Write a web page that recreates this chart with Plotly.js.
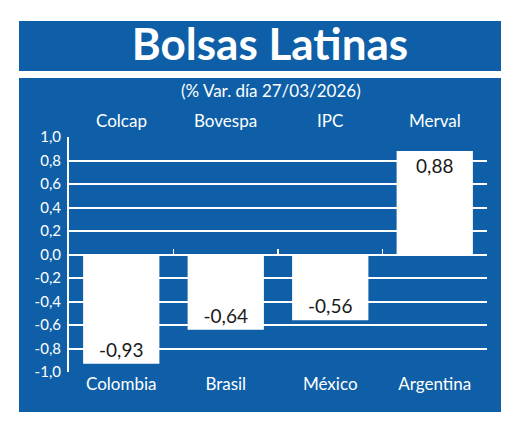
<!DOCTYPE html>
<html>
<head>
<meta charset="utf-8">
<script src="https://cdn.plot.ly/plotly-3.0.1.min.js"></script>
<style>
html,body{margin:0;padding:0;background:#fff;}
#chart{width:520px;height:447px;}
</style>
</head>
<body>
<div id="chart"></div>
<script>
// Data
var countries = ["Colombia", "Brasil", "México", "Argentina"];
var indices = ["Colcap", "Bovespa", "IPC", "Merval"];
var values = [-0.93, -0.64, -0.56, 0.88];
var yTickVals = [-1.0, -0.8, -0.6, -0.4, -0.2, 0.0, 0.2, 0.4, 0.6, 0.8, 1.0];
var yTickText = ["-1,0", "-0,8", "-0,6", "-0,4", "-0,2", "0,0", "0,2", "0,4", "0,6", "0,8", "1,0"];
var boundaryVals = [0.5, 1.5, 2.5, 3.5];

var BLUE = "#0e5fa8";
var FONT = "Lato, Open Sans, sans-serif";

// layout geometry (pixels)
var L = 69, R = 487, T = 137, B = 372, W = 520, H = 447;
function px(x){ return (x - L) / (R - L); }
function py(y){ return (B - y) / (B - T); }

var labels = values.map(function(v){ return v.toFixed(2).replace(".", ","); });

var bars = {
  type: "bar",
  x: countries,
  y: values,
  text: labels,
  textposition: "inside",
  insidetextanchor: "end",
  textangle: 0,
  textfont: {family: FONT, size: 19, color: "#1a1a1a"},
  marker: {color: "#ffffff", line: {width: 0}},
  hoverinfo: "skip",
  showlegend: false,
  cliponaxis: false
};

var dummy = {
  type: "scatter",
  x: [null], y: [null],
  xaxis: "x2", yaxis: "y",
  mode: "markers",
  hoverinfo: "skip",
  showlegend: false
};

var annotations = [
  {text: "(% Var. día 27/03/2026)", xref: "paper", yref: "paper",
   x: px(271), y: py(91), xanchor: "center", yanchor: "middle", showarrow: false,
   font: {family: FONT, size: 17, color: "#ffffff"}}
];
indices.forEach(function(name, i){
  annotations.push({text: name, xref: "x", yref: "paper", x: countries[i], y: py(121),
    xanchor: "center", yanchor: "middle", showarrow: false,
    font: {family: FONT, size: 17, color: "#ffffff"}});
});

var layout = {
  width: W, height: H,
  margin: {l: L, r: W - R, t: T, b: H - B, pad: 0},
  paper_bgcolor: "#ffffff",
  plot_bgcolor: "rgba(0,0,0,0)",
  separators: ",.",
  bargap: 0.27,
  title: {
    text: "<b>Bolsas Latinas</b>",
    x: 270 / W, xref: "container", xanchor: "center",
    y: 1 - 45 / H, yref: "container", yanchor: "middle",
    font: {family: FONT, size: 44, color: "#ffffff"}
  },
  xaxis: {
    type: "category",
    showgrid: false, zeroline: false, showline: false,
    ticks: "", tickfont: {family: FONT, size: 17, color: "#ffffff"},
    fixedrange: true
  },
  xaxis2: {
    overlaying: "x", anchor: "free", position: 0.5, side: "bottom",
    range: [-0.5, 3.5], showgrid: false, zeroline: false,
    showline: true, linecolor: "#ffffff", linewidth: 2,
    ticks: "inside", tickmode: "array", tickvals: boundaryVals,
    ticklen: 5, tickwidth: 1.5, tickcolor: "#ffffff",
    showticklabels: false, fixedrange: true
  },
  yaxis: {
    range: [-1, 1],
    tickmode: "array", tickvals: yTickVals, ticktext: yTickText,
    showgrid: true, gridcolor: "#ffffff", gridwidth: 2,
    zeroline: false, showline: true, linecolor: "#ffffff", linewidth: 2,
    ticks: "", ticklabelstandoff: 3,
    tickfont: {family: FONT, size: 15, color: "#ffffff"},
    fixedrange: true
  },
  shapes: [
    {type: "rect", xref: "paper", yref: "paper", layer: "below",
     x0: px(19), x1: px(501), y0: py(71), y1: py(21),
     fillcolor: BLUE, line: {width: 0}},
    {type: "rect", xref: "paper", yref: "paper", layer: "below",
     x0: px(19), x1: px(501), y0: py(412), y1: py(78),
     fillcolor: BLUE, line: {width: 0}}
  ],
  annotations: annotations
};

Plotly.newPlot("chart", [bars, dummy], layout, {displayModeBar: false, staticPlot: true});
</script>
</body>
</html>
